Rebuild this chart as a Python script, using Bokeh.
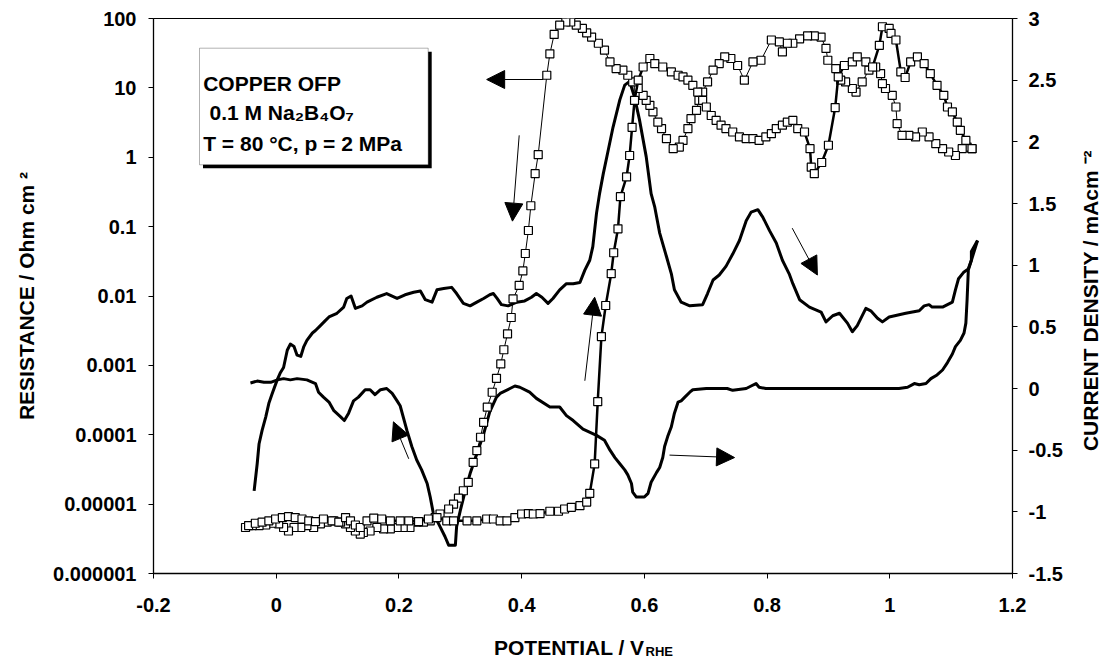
import math
from bokeh.plotting import figure
from bokeh.layouts import column, row
from bokeh.models import (Range1d, LinearAxis, LinearScale, FixedTicker, Label,
                          BoxAnnotation, Arrow, NormalHead)
from bokeh.embed import file_html
from bokeh.resources import INLINE

# ---------------- data ----------------
# Resistance, forward (anodic) scan  -> left log axis, thick line + squares
pot_R_fwd = [-0.045, -0.034, -0.023, -0.012, -0.001, 0.010, 0.020, 0.031, 0.042, 0.053,
             0.064, 0.077, 0.091, 0.102, 0.113, 0.121, 0.129, 0.137, 0.148, 0.159,
             0.172, 0.186, 0.202, 0.216, 0.232, 0.248, 0.262, 0.278, 0.289, 0.311,
             0.327, 0.343, 0.354, 0.365, 0.376, 0.389, 0.400, 0.411, 0.419, 0.430,
             0.446, 0.460, 0.470, 0.481, 0.495, 0.506, 0.511, 0.519, 0.524, 0.530,
             0.537, 0.546, 0.550, 0.557, 0.561, 0.571, 0.576, 0.580, 0.584, 0.590,
             0.598, 0.609, 0.617, 0.630, 0.644, 0.655, 0.663, 0.671, 0.679, 0.687,
             0.695, 0.701, 0.709, 0.717, 0.725, 0.733, 0.744, 0.755, 0.766, 0.777,
             0.787, 0.798, 0.807, 0.815, 0.825, 0.833, 0.842, 0.850, 0.861, 0.870,
             0.872, 0.877, 0.889, 0.900, 0.911, 0.916, 0.926, 0.939, 0.947, 0.961,
             0.972, 0.983, 0.988, 0.999, 1.002, 1.010, 1.018, 1.025, 1.034, 1.045,
             1.056, 1.066, 1.077, 1.088, 1.094, 1.102, 1.110, 1.115, 1.124, 1.134]
res_fwd = [4.9e-6, 5.3e-6, 5.5e-6, 5.75e-6, 6.1e-6, 6.4e-6, 6.6e-6, 6.4e-6, 6.1e-6, 5.75e-6,
           5.6e-6, 6.1e-6, 5.75e-6, 5.5e-6, 6.4e-6, 5.75e-6, 5.0e-6, 4.6e-6, 5.75e-6, 6.3e-6,
           6.1e-6, 5.75e-6, 5.75e-6, 5.75e-6, 5.6e-6, 6.1e-6, 6.4e-6, 5.75e-6, 5.75e-6, 5.75e-6,
           5.75e-6, 6.1e-6, 6.1e-6, 5.75e-6, 5.75e-6, 6.4e-6, 7.2e-6, 7.3e-6, 7.2e-6, 7.3e-6,
           7.9e-6, 7.9e-6, 8.5e-6, 9.0e-6, 9.5e-6, 1.07e-5, 1.43e-5, 3.8e-5, 3.0e-4, 2.6e-3,
           7.3e-3, 0.021, 0.042, 0.093, 0.27, 0.52, 1.06, 2.7, 6.6, 12.9,
           20, 26.5, 22.4, 20, 17, 15.2, 14.4, 12.9, 10.9, 8.7,
           6.6, 5.3, 4.0, 3.4, 2.9, 2.59, 2.31, 1.96, 1.85, 1.85,
           1.75, 1.96, 2.19, 2.59, 2.9, 3.2, 3.4, 2.59, 2.31, 1.33,
           0.72, 0.58, 0.84, 1.49, 5.2, 14.4, 21, 23.7, 28, 23.7,
           20, 41, 76, 72, 61, 49, 17, 14.1, 23.7, 28,
           22.4, 16.1, 10.9, 7.8, 5.3, 4.5, 3.2, 2.44, 1.75, 1.33]

# Resistance, reverse (cathodic) scan -> left log axis, thin line + squares
pot_R_rev = [1.134, 1.126, 1.118, 1.107, 1.096, 1.086, 1.075, 1.064, 1.053, 1.042,
             1.031, 1.020, 1.012, 1.010, 1.004, 0.993, 0.988, 0.985, 0.977, 0.966,
             0.955, 0.945, 0.939, 0.928, 0.920, 0.912, 0.899, 0.896, 0.888, 0.877,
             0.866, 0.853, 0.842, 0.833, 0.825, 0.820, 0.807, 0.790, 0.777, 0.763,
             0.752, 0.741, 0.731, 0.722, 0.712, 0.703, 0.695, 0.689, 0.685, 0.676,
             0.671, 0.663, 0.657, 0.647, 0.636, 0.628, 0.622, 0.614, 0.609, 0.603,
             0.598, 0.590, 0.581, 0.573, 0.565, 0.554, 0.544, 0.535, 0.525,
             0.514, 0.506, 0.499, 0.489, 0.480, 0.472, 0.462, 0.453, 0.446, 0.441,
             0.427, 0.422, 0.415, 0.411, 0.406, 0.402, 0.396, 0.386, 0.383, 0.377,
             0.371, 0.366, 0.359, 0.352, 0.344, 0.338, 0.333, 0.327, 0.321, 0.313,
             0.305, 0.297, 0.289, 0.281, 0.267, 0.259, 0.251, 0.240, 0.229, 0.218,
             0.207, 0.197, 0.186, 0.175, 0.164, 0.153, 0.142, 0.137, 0.129, 0.121,
             0.113, 0.105, 0.094, 0.083, 0.072, 0.061, 0.050, 0.040, 0.029, 0.020,
             0.012, 0.004, -0.007, -0.017, -0.028, -0.039, -0.050]
res_rev = [1.33, 1.40, 1.33, 1.06, 1.19, 1.33, 1.57, 1.96, 2.31, 1.96,
           2.07, 2.07, 3.05, 5.3, 7.8, 9.8, 11.5, 16.1, 20, 18,
           12.2, 8.7, 9.8, 12.2, 12.9, 19, 25, 37, 54, 56,
           56, 51, 44, 44, 33, 46, 49, 25, 23.7, 12.9,
           21, 26.5, 28, 22.4, 18, 12.2, 8.7, 6.6, 4.75, 3.6,
           2.59, 1.75, 1.40, 1.33, 1.85, 2.59, 3.2, 4.5, 5.6, 6.6,
           7.8, 9.8, 12.2, 15.2, 18, 19, 23.7, 35, 44,
           54, 62, 72, 80, 89, 89, 80, 59, 31, 15.2,
           1.09, 0.58, 0.20, 0.088, 0.041, 0.023, 0.0142, 0.0091, 0.0049, 0.00285,
           0.00168, 0.00105, 6.5e-4, 4.1e-4, 2.5e-4, 1.51e-4, 9.2e-5, 5.9e-5, 4.0e-5, 2.06e-5,
           1.56e-5, 1.22e-5, 1.0e-5, 8.5e-6, 7.2e-6, 6.4e-6, 5.75e-6, 5.5e-6, 5.5e-6, 4.6e-6,
           4.6e-6, 4.6e-6, 4.4e-6, 4.4e-6, 4.6e-6, 4.1e-6, 3.9e-6, 3.7e-6, 4.1e-6, 4.6e-6,
           5.2e-6, 5.5e-6, 5.75e-6, 5.5e-6, 5.2e-6, 4.6e-6, 4.9e-6, 4.6e-6, 4.6e-6, 4.1e-6,
           4.6e-6, 5.2e-6, 5.3e-6, 5.0e-6, 4.9e-6, 4.9e-6, 4.6e-6]

# Current density, forward scan -> right axis (mA cm-2)
pot_J_fwd = [-0.036, -0.031, -0.028, -0.023, -0.017, -0.012, -0.0065, 0.0016, 0.007, 0.012,
             0.018, 0.023, 0.029, 0.034, 0.040, 0.045, 0.050, 0.059, 0.064, 0.072,
             0.080, 0.086, 0.099, 0.110, 0.115, 0.122, 0.129, 0.140, 0.148, 0.164,
             0.180, 0.197, 0.210, 0.224, 0.235, 0.243, 0.254, 0.262, 0.273, 0.286,
             0.294, 0.305, 0.316, 0.327, 0.338, 0.348, 0.354, 0.360, 0.367, 0.378,
             0.392, 0.405, 0.416, 0.424, 0.433, 0.443, 0.451, 0.462, 0.473, 0.484,
             0.495, 0.503, 0.511, 0.516, 0.522, 0.527, 0.533, 0.541, 0.549, 0.560,
             0.568, 0.576, 0.584, 0.592, 0.603, 0.611, 0.617, 0.625, 0.636, 0.644,
             0.649, 0.660, 0.674, 0.695, 0.703, 0.712, 0.722, 0.733, 0.744, 0.755,
             0.766, 0.774, 0.785, 0.793, 0.804, 0.815, 0.825, 0.836, 0.842, 0.853,
             0.869, 0.888, 0.896, 0.907, 0.918, 0.931, 0.939, 0.947, 0.961, 0.969,
             0.980, 0.988, 0.999, 1.026, 1.048, 1.056, 1.064, 1.069, 1.086, 1.102,
             1.107, 1.112, 1.120, 1.128, 1.133, 1.133, 1.143]
cur_fwd = [-0.83, -0.61, -0.45, -0.34, -0.23, -0.12, -0.04, 0.07, 0.13, 0.17,
           0.31, 0.36, 0.34, 0.27, 0.26, 0.34, 0.39, 0.45, 0.47, 0.51,
           0.55, 0.58, 0.61, 0.66, 0.73, 0.75, 0.65, 0.67, 0.70, 0.74,
           0.77, 0.73, 0.76, 0.78, 0.79, 0.72, 0.70, 0.80, 0.81, 0.82,
           0.77, 0.69, 0.67, 0.70, 0.73, 0.76, 0.77, 0.73, 0.68, 0.67,
           0.70, 0.71, 0.74, 0.77, 0.74, 0.69, 0.73, 0.80, 0.85, 0.85,
           0.86, 0.96, 1.04, 1.15, 1.42, 1.58, 1.74, 1.93, 2.12, 2.34,
           2.46, 2.49, 2.36, 2.18, 1.88, 1.58, 1.47, 1.26, 1.07, 0.93,
           0.80, 0.70, 0.67, 0.68, 0.77, 0.88, 0.92, 0.99, 1.09, 1.20,
           1.36, 1.43, 1.45, 1.39, 1.28, 1.18, 1.04, 0.93, 0.85, 0.72,
           0.66, 0.62, 0.54, 0.59, 0.61, 0.53, 0.46, 0.51, 0.65, 0.63,
           0.57, 0.54, 0.58, 0.61, 0.63, 0.67, 0.68, 0.66, 0.66, 0.70,
           0.80, 0.89, 0.94, 0.97, 1.04, 1.11, 1.20]

# Current density, reverse scan -> right axis
pot_J_rev = [1.143, 1.133, 1.128, 1.126, 1.124, 1.121, 1.115, 1.107, 1.102, 1.094,
             1.086, 1.077, 1.067, 1.059, 1.048, 1.040, 1.029, 1.015, 0.798, 0.787,
             0.782, 0.774, 0.766, 0.744, 0.735, 0.701, 0.679, 0.674, 0.666, 0.660,
             0.655, 0.649, 0.644, 0.638, 0.633, 0.630, 0.625, 0.620, 0.611, 0.606,
             0.600, 0.587, 0.581, 0.579, 0.573, 0.568, 0.560, 0.552, 0.544, 0.535,
             0.522, 0.500, 0.484, 0.473, 0.462, 0.446, 0.424, 0.413, 0.397, 0.389,
             0.381, 0.365, 0.359, 0.348, 0.338, 0.327, 0.316, 0.308, 0.300, 0.294,
             0.292, 0.281, 0.275, 0.267, 0.262, 0.256, 0.251, 0.246, 0.237, 0.229,
             0.221, 0.213, 0.202, 0.197, 0.189, 0.180, 0.170, 0.161, 0.153, 0.145,
             0.134, 0.126, 0.118, 0.111, 0.105, 0.094, 0.086, 0.077, 0.069, 0.064,
             0.050, 0.034, 0.023, 0.012, 0.002, -0.009, -0.020, -0.031, -0.042]
cur_rev = [1.20, 1.04, 0.96, 0.72, 0.53, 0.45, 0.39, 0.34, 0.28, 0.21,
           0.15, 0.11, 0.08, 0.04, 0.03, 0.04, 0.01, 0.0, 0.0, 0.01,
           0.04, 0.02, 0.0, -0.015, 0.0, 0.0, -0.01, -0.03, -0.07, -0.10,
           -0.11, -0.20, -0.31, -0.39, -0.47, -0.56, -0.64, -0.68, -0.76, -0.85,
           -0.88, -0.88, -0.84, -0.77, -0.70, -0.66, -0.61, -0.56, -0.50, -0.42,
           -0.38, -0.33, -0.26, -0.22, -0.15, -0.15, -0.08, -0.03, 0.01, 0.02,
           0.0, -0.04, -0.07, -0.19, -0.37, -0.53, -0.69, -0.83, -0.99, -1.12,
           -1.27, -1.27, -1.20, -1.12, -1.07, -1.01, -0.88, -0.77, -0.66, -0.58,
           -0.47, -0.34, -0.14, -0.10, -0.04, 0.0, -0.01, -0.05, -0.01, -0.01,
           -0.07, -0.10, -0.20, -0.26, -0.23, -0.18, -0.11, -0.07, -0.03, 0.04,
           0.07, 0.08, 0.07, 0.08, 0.07, 0.05, 0.05, 0.06, 0.045]

# direction arrows: (x_start, y_start, x_end, y_end)
arrows_R = [(0.435, 13.2, 0.343, 13.2),
            (0.396, 2.07, 0.385, 0.12),
            (0.503, 6.0e-4, 0.519, 0.0096)]
arrows_J = [(0.216, -0.57, 0.191, -0.27),
            (0.641, -0.54, 0.747, -0.56),
            (0.841, 1.30, 0.882, 0.92)]

x_ticks = [-0.2, 0.0, 0.2, 0.4, 0.6, 0.8, 1.0, 1.2]
x_labels = ["-0.2", "0", "0.2", "0.4", "0.6", "0.8", "1", "1.2"]
r_ticks = [1e-6, 1e-5, 1e-4, 1e-3, 1e-2, 1e-1, 1.0, 10.0, 100.0]
r_labels = ["0.000001", "0.00001", "0.0001", "0.001", "0.01", "0.1", "1", "10", "100"]
j_ticks = [-1.5, -1.0, -0.5, 0.0, 0.5, 1.0, 1.5, 2.0, 2.5, 3.0]
j_labels = ["-1.5", "-1", "-0.5", "0", "0.5", "1", "1.5", "2", "2.5", "3"]

# ---------------- geometry ----------------
W, H = 1103, 661
STRIP = 36                  # bottom strip holding the x-axis title
RSTRIP = 36                 # right strip holding the current-density title
WP = W - RSTRIP
HP = H - STRIP
FL, FR, FT, FB = 153, 1012, 18, 573
FONT = "Liberation Sans"

p = figure(width=WP, height=HP, x_range=Range1d(-0.2, 1.2), y_range=Range1d(1e-6, 100),
           y_axis_type="log", output_backend="svg", toolbar_location=None,
           min_border_left=FL, min_border_right=WP - FR, min_border_top=FT,
           min_border_bottom=HP - FB)
p.extra_y_ranges = {"j": Range1d(-1.5, 3.0)}
p.extra_y_scales = {"j": LinearScale()}
p.xgrid.grid_line_color = None
p.ygrid.grid_line_color = None
p.outline_line_color = "black"
p.outline_line_width = 1
p.background_fill_color = "white"
p.border_fill_color = "white"

jaxis = LinearAxis(y_range_name="j")
p.add_layout(jaxis, "right")

p.xaxis.ticker = FixedTicker(ticks=x_ticks, minor_ticks=[])
p.xaxis.major_label_overrides = dict(zip(x_ticks, x_labels))
p.yaxis[0].ticker = FixedTicker(ticks=r_ticks, minor_ticks=[])
p.yaxis[0].major_label_overrides = dict(zip(r_ticks, r_labels))
jaxis.ticker = FixedTicker(ticks=j_ticks, minor_ticks=[])
jaxis.major_label_overrides = dict(zip(j_ticks, j_labels))

for ax in [p.xaxis[0], p.yaxis[0], jaxis]:
    ax.major_label_text_font = FONT
    ax.major_label_text_font_style = "bold"
    ax.major_label_text_font_size = "20px"
    ax.major_label_text_color = "black"
    ax.axis_line_color = "black"
    ax.axis_line_width = 1.3
    ax.major_tick_line_color = "black"
    ax.major_tick_line_width = 1
    ax.major_tick_in = 0
    ax.major_tick_out = 5
    ax.minor_tick_line_color = None
    ax.axis_label_text_font = FONT
    ax.axis_label_text_font_style = "bold"
    ax.axis_label_text_font_size = "21px"
    ax.axis_label_text_color = "black"
p.xaxis[0].major_label_standoff = 19
p.yaxis[0].major_label_standoff = 12
jaxis.major_label_standoff = 11

p.yaxis[0].axis_label = "RESISTANCE / Ohm cm \u00b2"
p.yaxis[0].axis_label_standoff = 12

# ---------------- series ----------------
p.line(pot_J_fwd, cur_fwd, y_range_name="j", line_width=3, color="black", line_join="round")
p.line(pot_J_rev, cur_rev, y_range_name="j", line_width=3, color="black", line_join="round")

p.line(pot_R_rev, res_rev, line_width=1, color="black")
p.scatter(pot_R_rev, res_rev, marker="square", size=8, fill_color="white",
          line_color="black", line_width=1.2)
p.line(pot_R_fwd, res_fwd, line_width=2.5, color="black")
p.scatter(pot_R_fwd, res_fwd, marker="square", size=8, fill_color="white",
          line_color="black", line_width=1.2)

for xs, ys, xe, ye in arrows_R:
    p.add_layout(Arrow(end=NormalHead(size=18, fill_color="black", line_color="black"),
                       x_start=xs, y_start=ys, x_end=xe, y_end=ye,
                       line_width=1, line_color="black"))
for xs, ys, xe, ye in arrows_J:
    p.add_layout(Arrow(end=NormalHead(size=18, fill_color="black", line_color="black"),
                       x_start=xs, y_start=ys, x_end=xe, y_end=ye, y_range_name="j",
                       line_width=1, line_color="black"))


# ---------------- info box (positions in canvas px, converted to frame px) ----------------
def label(cx, cy, text, size, align="left", baseline="alphabetic"):
    return Label(x=cx - FL, y=FB - cy, x_units="screen", y_units="screen", text=text,
                 text_font=FONT, text_font_style="bold", text_font_size=f"{size}px",
                 text_align=align, text_baseline=baseline, text_color="black")


p.add_layout(BoxAnnotation(left=199 - FL + 3.5, right=427.7 - FL + 3.5,
                           top=FB - 47.7 - 3.5, bottom=FB - 164.3 - 3.5,
                           left_units="screen", right_units="screen",
                           top_units="screen", bottom_units="screen",
                           fill_color="black", fill_alpha=1, line_color=None))
p.add_layout(BoxAnnotation(left=199 - FL, right=427.7 - FL, top=FB - 47.7, bottom=FB - 164.3,
                           left_units="screen", right_units="screen",
                           top_units="screen", bottom_units="screen",
                           fill_color="white", fill_alpha=1, line_color="black",
                           line_width=1))
p.add_layout(label(202.7, 83.3, "COPPER OFP", 21))
p.add_layout(label(209, 111.7, "0.1 M Na\u2082B\u2084O\u2087", 21))
p.add_layout(label(202.7, 143.3, "T = 80 \u00b0C, p = 2 MPa", 21))


def strip(width, height):
    f = figure(width=width, height=height, x_range=Range1d(0, 1), y_range=Range1d(0, 1),
               output_backend="svg", toolbar_location=None, x_axis_location=None,
               y_axis_location=None, min_border=0, min_border_left=0, min_border_right=0,
               min_border_top=0, min_border_bottom=0)
    f.outline_line_color = None
    f.xgrid.grid_line_color = None
    f.ygrid.grid_line_color = None
    f.background_fill_color = "white"
    f.border_fill_color = "white"
    return f


# bottom strip: x-axis title with subscript (its frame is aligned with the plot frame)
s = strip(WP, STRIP)
JOIN_X = 644            # canvas x where the subscript starts
BASE_Y = 647            # canvas y of the title baseline
s.add_layout(Label(x=JOIN_X - FL, y=H - BASE_Y, x_units="screen", y_units="screen",
                   text="POTENTIAL / V", text_font=FONT, text_font_style="bold",
                   text_font_size="21px", text_align="right", text_baseline="alphabetic",
                   text_color="black"))
s.add_layout(Label(x=JOIN_X + 1 - FL, y=H - BASE_Y - 4, x_units="screen", y_units="screen",
                   text="RHE", text_font=FONT, text_font_style="bold",
                   text_font_size="13px", text_align="left", text_baseline="alphabetic",
                   text_color="black"))

# right strip: rotated current-density title (reads bottom to top)
r = strip(RSTRIP, H)
r.add_layout(Label(x=1090 - WP, y=0.546, x_units="screen", y_units="data",
                   text="CURRENT DENSITY / mAcm \u207b\u00b2", text_font=FONT,
                   text_font_style="bold", text_font_size="21px", text_align="center",
                   text_baseline="middle", angle=math.pi / 2, text_color="black"))

layout = row(column(p, s, spacing=0), r, spacing=0)
open("out.html", "w").write(file_html(layout, INLINE))
